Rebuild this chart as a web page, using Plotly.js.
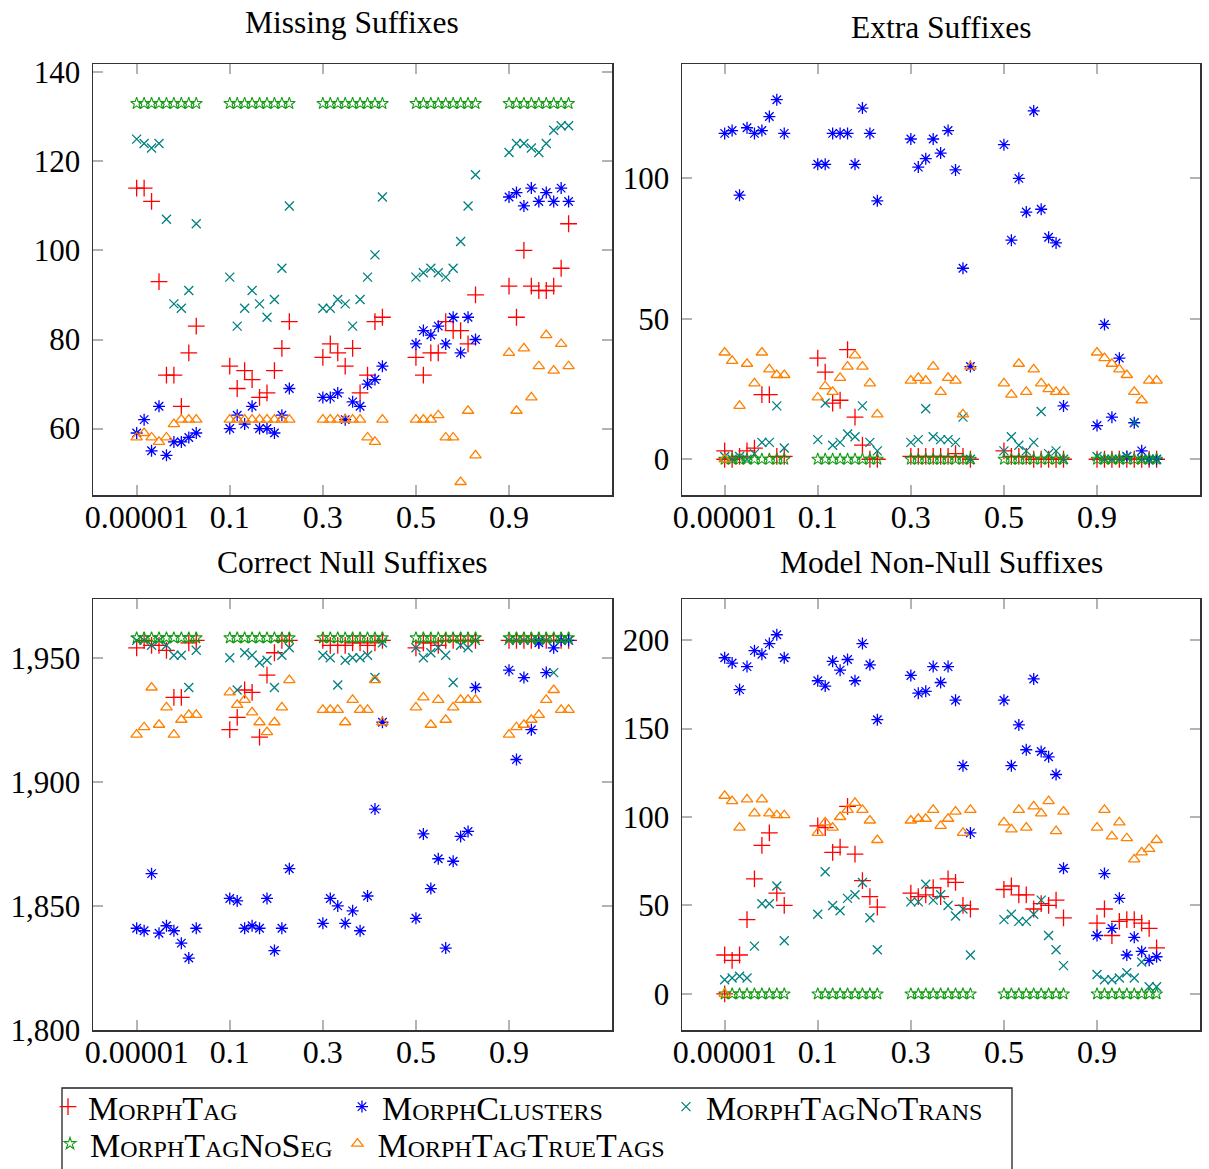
<!DOCTYPE html>
<html><head><meta charset="utf-8">
<script src="https://cdn.plot.ly/plotly-3.0.1.min.js"></script>
<style>html,body{margin:0;padding:0;background:#fff}#chart{width:1209px;height:1169px}</style>
</head><body><div id="chart"></div>
<script>
// ---- categories / ticks ----
const groupLabels = ['0.00001', '0.1', '0.3', '0.5', '0.9'];
const groupTicks = [0, 12.5, 25, 37.5, 50];
const runsPerGroup = 9;
const seriesNames = ['MorphTag', 'MorphClusters', 'MorphTagNoTrans', 'MorphTagNoSeg', 'MorphTagTrueTags'];
const panelTitles = ['Missing Suffixes', 'Extra Suffixes', 'Correct Null Suffixes', 'Model Non-Null Suffixes'];

// ---- Missing Suffixes ----
const missTag = [114,114,111,93,72,72,65,77,83, 74,69,73,71,67,68,73,78,84, 76,79,77,74,78,68,72,84,85, 76,72,77,77,84,82,82,79,90, 92,85,100,92,91,91,92,96,106];
const missClusters = [59,62,55,65,54,57,57,58,59, 60,63,61,65,60,60,59,63,69, 67,67,68,62,66,65,70,71,74, 79,82,81,83,79,85,77,85,80, 112,113,110,114,111,113,111,114,111];
const missNoTrans = [125,124,123,124,107,88,87,91,106, 94,83,87,91,88,85,89,96,110, 87,87,89,88,83,89,94,99,112, 94,95,96,95,94,96,102,110,117, 122,124,124,123,122,124,127,128,128];
const missNoSeg = [133,133,133,133,133,133,133,133,133, 133,133,133,133,133,133,133,133,133, 133,133,133,133,133,133,133,133,133, 133,133,133,133,133,133,133,133,133, 133,133,133,133,133,133,133,133,133];
const missTrueTags = [58,59,58,57,58,61,62,62,62, 62,62,62,62,62,62,62,62,62, 62,62,62,62,62,62,58,57,62, 62,62,62,63,58,58,48,64,54, 77,64,78,67,74,81,73,79,74];

// ---- Extra Suffixes ----
const extraTag = [3,0,1,3,4,23,23,1,1, 36,31,20,21,39,15,5,0,0, 1,1,1,1,1,1,2,1,0, 3,1,1,1,0,0,0,0,0, 0,0,0,0,0,0,0,0,0];
const extraClusters = [116,117,94,118,116,117,122,128,116, 105,105,116,116,116,105,125,116,92, 114,104,107,114,109,117,103,68,33, 112,78,100,88,124,89,79,77,19, 12,48,15,36,1,13,3,0,0];
const extraNoTrans = [1,0,1,0,2,6,6,19,4, 7,20,5,6,9,8,19,6,3, 6,7,18,8,7,7,6,15,0, 3,8,5,3,6,17,2,3,0, 1,0,0,0,1,13,0,0,0];
const extraNoSeg = [0,0,0,0,0,0,0,0,0, 0,0,0,0,0,0,0,0,0, 0,0,0,0,0,0,0,0,0, 0,0,0,0,0,0,0,0,0, 0,0,0,0,0,0,0,0,0];
const extraTrueTags = [38,35,19,34,27,38,32,30,30, 22,26,24,29,33,37,33,27,16, 28,29,28,33,24,29,28,16,33, 27,23,34,24,32,27,25,24,24, 38,36,34,32,30,24,21,28,28];

// ---- Correct Null Suffixes ----
const nullTag = [1954,1957,1955,1955,1953,1934,1934,1956,1957, 1921,1926,1937,1936,1918,1943,1952,1957,1957, 1957,1955,1955,1955,1956,1956,1955,1956,1957, 1954,1956,1956,1955,1957,1957,1957,1957,1957, 1957,1957,1957,1957,1957,1957,1957,1957,1957];
const nullClusters = [1841,1840,1863,1839,1842,1840,1835,1829,1841, 1853,1852,1841,1842,1841,1853,1832,1841,1865, 1843,1853,1850,1843,1848,1840,1854,1889,1924, 1845,1879,1857,1869,1833,1868,1878,1880,1938, 1945,1909,1942,1921,1956,1944,1954,1957,1957];
const nullNoTrans = [1957,1957,1955,1957,1955,1951,1951,1938,1953, 1950,1937,1952,1951,1948,1949,1938,1951,1954, 1951,1950,1939,1949,1950,1950,1951,1942,1956, 1954,1950,1952,1954,1951,1940,1955,1954,1957, 1957,1957,1957,1957,1957,1957,1944,1957,1957];
const nullNoSeg = [1958,1958,1958,1958,1958,1958,1958,1958,1958, 1958,1958,1958,1958,1958,1958,1958,1958,1958, 1958,1958,1958,1958,1958,1958,1958,1958,1958, 1958,1958,1958,1958,1958,1958,1958,1958,1958, 1958,1958,1958,1958,1958,1958,1958,1958,1958];
const nullTrueTags = [1919,1922,1938,1923,1930,1919,1925,1927,1927, 1936,1931,1933,1928,1924,1920,1924,1930,1941, 1929,1929,1929,1924,1933,1929,1929,1941,1924, 1930,1934,1923,1933,1925,1930,1933,1933,1933, 1919,1922,1923,1925,1927,1933,1937,1929,1929];

// ---- Model Non-Null Suffixes ----
const nonNullTag = [22,19,22,42,65,84,91,57,50, 95,94,80,83,106,79,64,55,49, 57,55,56,60,55,65,63,50,48, 59,61,56,56,48,51,50,53,43, 40,48,33,41,42,42,40,37,26];
const nonNullClusters = [190,187,172,185,194,192,198,203,190, 177,174,188,183,189,177,198,186,155, 180,170,171,185,176,185,166,129,91, 166,129,152,138,178,137,134,124,71, 33,68,37,54,22,32,24,19,21];
const nonNullNoTrans = [8,9,10,9,27,51,51,61,30, 45,69,50,47,54,56,63,43,25, 52,52,62,53,56,50,44,48,22, 42,45,41,41,45,53,33,25,16, 11,8,8,9,12,9,18,4,4];
const nonNullNoSeg = [0,0,0,0,0,0,0,0,0, 0,0,0,0,0,0,0,0,0, 0,0,0,0,0,0,0,0,0, 0,0,0,0,0,0,0,0,0, 0,0,0,0,0,0,0,0,0];
const nonNullTrueTags = [112,109,94,110,102,110,102,101,101, 91,97,94,100,104,108,104,98,87, 98,99,99,104,95,99,103,91,104, 97,93,104,94,106,102,109,92,103, 94,104,89,97,88,76,80,82,87];

// extra run at the origin, visible for MorphTag and MorphTagTrueTags in the count panels
const originRunX = [0];
const originRunY = [0];

const panelData = [
  [missTag, missClusters, missNoTrans, missNoSeg, missTrueTags],
  [extraTag, extraClusters, extraNoTrans, extraNoSeg, extraTrueTags],
  [nullTag, nullClusters, nullNoTrans, nullNoSeg, nullTrueTags],
  [nonNullTag, nonNullClusters, nonNullNoTrans, nonNullNoSeg, nonNullTrueTags]
];
const panelHasOrigin = [false, true, false, true];
const seriesHasOrigin = [true, false, false, false, true];
const seriesLegendSlot = ['legend', 'legend', 'legend3', 'legend2', 'legend2'];

// ---- styles ----
const seriesStyle = [
  {symbol: 'cross-thin-open', color: '#ff0000', size: 12, width: 1.3},
  {symbol: 'asterisk-open', color: '#0000ff', size: 10, width: 1.3},
  {symbol: 'x-thin-open', color: '#008080', size: 9, width: 1.3},
  {symbol: 'star-open', color: '#129a12', size: 9, width: 1.1},
  {symbol: 'triangle-up-open', color: '#ff8000', size: 10, width: 1.3}
];
const W = 1209, H = 1169;
const FONT = 'Liberation Serif, Times New Roman, serif';
const colPx = [[93, 612, 136.67], [682, 1200, 724.67]];
const rowPx = [[64, 495], [599, 1030]];
const pxPerUnit = 7.447;
const yRanges = [[45.08, 141.87], [-12.72, 140.7], [1800, 1973.66], [-20.4, 223.2]];
const yTickVals = [[60, 80, 100, 120, 140], [0, 50, 100], [1800, 1850, 1900, 1950], [0, 50, 100, 150, 200]];

const xPositions = [];
groupTicks.forEach(t => { for (let k = 0; k < runsPerGroup; k++) xPositions.push(t + k); });

const traces = [];
panelData.forEach((series, p) => {
  const sfx = p === 0 ? '' : String(p + 1);
  series.forEach((vals, s) => {
    const st = seriesStyle[s];
    let x = xPositions, y = vals;
    if (panelHasOrigin[p] && seriesHasOrigin[s]) { x = originRunX.concat(xPositions); y = originRunY.concat(vals); }
    traces.push({
      type: 'scatter', mode: 'markers', x: x, y: y,
      xaxis: 'x' + sfx, yaxis: 'y' + sfx,
      name: seriesNames[s], legendgroup: seriesNames[s], showlegend: p === 0,
      legend: seriesLegendSlot[s],
      cliponaxis: true,
      marker: {symbol: st.symbol, size: st.size, color: st.color, line: {color: st.color, width: st.width}}
    });
  });
});

const legendFont = {family: FONT, size: 34, color: '#000', variant: 'small-caps'};
function legendAt(xPx, topPx, entryWidth) {
  const lg = {
    orientation: 'h', x: xPx / W, y: 1 - topPx / H, xanchor: 'left', yanchor: 'top',
    borderwidth: 0, bgcolor: 'rgba(0,0,0,0)', font: legendFont,
    itemwidth: 30, tracegroupgap: 0
  };
  if (entryWidth) lg.entrywidth = entryWidth;
  return lg;
}
const layout = {
  width: W, height: H, margin: {l: 0, r: 0, t: 0, b: 0, autoexpand: false},
  paper_bgcolor: '#fff', plot_bgcolor: '#fff',
  font: {family: FONT, size: 31, color: '#000'},
  showlegend: true,
  legend: legendAt(48, 1078, 249),
  legend3: legendAt(666, 1078, 0),
  legend2: legendAt(50, 1115, 0),
  shapes: [{
    type: 'rect', xref: 'paper', yref: 'paper', layer: 'below',
    x0: 62 / W, x1: 1012 / W, y0: -0.02, y1: 1 - 1088 / H,
    line: {color: '#222', width: 1.3}, fillcolor: 'rgba(0,0,0,0)'
  }],
  annotations: [],
  hovermode: false
};

for (let p = 0; p < 4; p++) {
  const c = colPx[p % 2], r = rowPx[Math.floor(p / 2)];
  const sfx = p === 0 ? '' : String(p + 1);
  layout['xaxis' + sfx] = {
    domain: [c[0] / W, c[1] / W], anchor: 'y' + sfx,
    range: [(c[0] - c[2]) / pxPerUnit, (c[1] - c[2]) / pxPerUnit],
    tickvals: groupTicks, ticktext: groupLabels,
    ticks: 'inside', ticklen: 10, tickwidth: 2, tickcolor: '#b3b3b3',
    showline: true, linecolor: '#333', linewidth: 1.5, mirror: 'ticks',
    showgrid: false, zeroline: false, ticklabelstandoff: -7,
    tickfont: {family: FONT, size: 32, color: '#000'}
  };
  layout['yaxis' + sfx] = {
    domain: [1 - r[1] / H, 1 - r[0] / H], anchor: 'x' + sfx,
    range: yRanges[p], tickvals: yTickVals[p], tickformat: ',d',
    ticks: 'inside', ticklen: 10, tickwidth: 2, tickcolor: '#b3b3b3',
    showline: true, linecolor: '#333', linewidth: 1.5, mirror: 'ticks',
    showgrid: false, zeroline: false, ticklabelstandoff: 5,
    tickfont: {family: FONT, size: 31, color: '#000'}
  };
}

const titlePos = [[352, 22], [941, 28], [352, 562], [941, 562]];
panelTitles.forEach((t, i) => {
  layout.annotations.push({
    text: t, xref: 'paper', yref: 'paper', x: titlePos[i][0] / W, y: 1 - titlePos[i][1] / H,
    xanchor: 'center', yanchor: 'middle', showarrow: false,
    font: {family: FONT, size: 31.5, color: '#000'}
  });
});

Plotly.newPlot('chart', traces, layout, {displayModeBar: false, staticPlot: true});
</script>
</body></html>
